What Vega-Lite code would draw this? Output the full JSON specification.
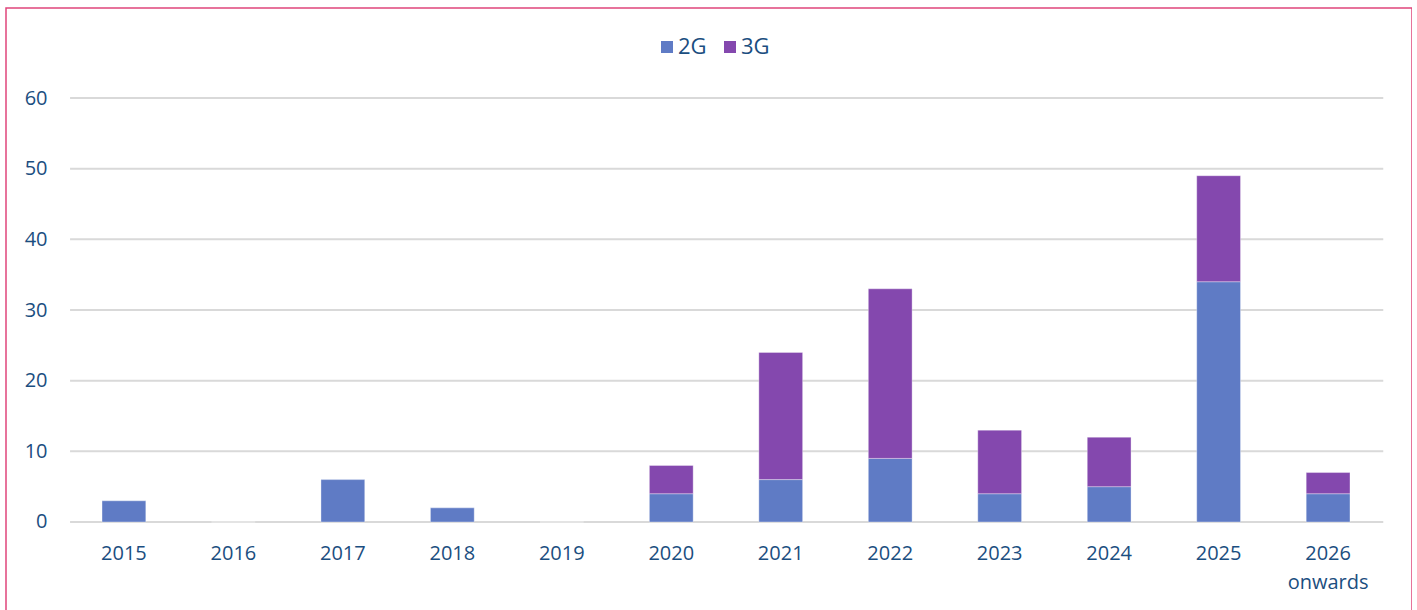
{
  "$schema": "https://vega.github.io/schema/vega-lite/v6.json",
  "autosize": "none",
  "width": 1406,
  "height": 610,
  "padding": {"left": 6, "top": 8, "right": 0, "bottom": 0},
  "background": "#ffffff",
  "config": {
    "font": "Open Sans",
    "view": {"stroke": "#E0457B", "strokeWidth": 1.5}
  },
  "datasets": {
    "bars": [
      {"year": "2015", "series": "2G", "value": 3},
      {"year": "2016", "series": "2G", "value": 0},
      {"year": "2017", "series": "2G", "value": 6},
      {"year": "2018", "series": "2G", "value": 2},
      {"year": "2019", "series": "2G", "value": 0},
      {"year": "2020", "series": "2G", "value": 4},
      {"year": "2020", "series": "3G", "value": 4},
      {"year": "2021", "series": "2G", "value": 6},
      {"year": "2021", "series": "3G", "value": 18},
      {"year": "2022", "series": "2G", "value": 9},
      {"year": "2022", "series": "3G", "value": 24},
      {"year": "2023", "series": "2G", "value": 4},
      {"year": "2023", "series": "3G", "value": 9},
      {"year": "2024", "series": "2G", "value": 5},
      {"year": "2024", "series": "3G", "value": 7},
      {"year": "2025", "series": "2G", "value": 34},
      {"year": "2025", "series": "3G", "value": 15},
      {"year": "2026 onwards", "series": "2G", "value": 4},
      {"year": "2026 onwards", "series": "3G", "value": 3}
    ],
    "grid": [{"v": 0}, {"v": 10}, {"v": 20}, {"v": 30}, {"v": 40}, {"v": 50}, {"v": 60}]
  },
  "layer": [
    {
      "data": {"name": "grid"},
      "mark": {"type": "rule", "color": "#D9D9D9", "strokeWidth": 2},
      "encoding": {
        "y": {"field": "v", "type": "quantitative"},
        "x": {"datum": "2015", "type": "nominal", "bandPosition": -0.73},
        "x2": {"datum": "2026 onwards", "bandPosition": 1.76}
      }
    },
    {
      "data": {"name": "bars"},
      "mark": {"type": "bar", "stroke": "#ffffff", "strokeOpacity": 0.35, "strokeWidth": 1},
      "encoding": {
        "x": {
          "field": "year",
          "type": "nominal",
          "sort": null,
          "scale": {
            "domain": ["2015", "2016", "2017", "2018", "2019", "2020", "2021", "2022", "2023", "2024", "2025", "2026 onwards"],
            "paddingInner": 0.6,
            "paddingOuter": 0.7218,
            "align": 0.6076
          },
          "axis": {
            "title": null,
            "orient": "bottom",
            "offset": -96,
            "bandPosition": 0.5,
            "domain": false,
            "ticks": false,
            "grid": false,
            "labelAngle": 0,
            "labelAlign": "center",
            "labelPadding": 31,
            "labelFontSize": 20,
            "labelColor": "#1B4E80",
            "labelLineHeight": 29,
            "labelExpr": "datum.label == '2026 onwards' ? ['2026', 'onwards'] : datum.label"
          }
        },
        "y": {
          "field": "value",
          "type": "quantitative",
          "stack": "zero",
          "scale": {"domain": [-13.585, 72.736], "nice": false, "zero": false},
          "axis": {
            "title": null,
            "values": [0, 10, 20, 30, 40, 50, 60],
            "offset": -41,
            "domain": false,
            "ticks": false,
            "grid": false,
            "labelPadding": 0,
            "labelFontSize": 20,
            "labelColor": "#1B4E80"
          }
        },
        "color": {
          "field": "series",
          "type": "nominal",
          "scale": {"domain": ["2G", "3G"], "range": ["#5F7BC5", "#8448AE"]},
          "legend": {
            "title": null,
            "orient": "none",
            "direction": "horizontal",
            "legendX": 650,
            "legendY": 28,
            "symbolType": "square",
            "symbolSize": 144,
            "symbolStrokeWidth": 0,
            "labelFontSize": 22,
            "labelColor": "#1B4E80",
            "labelOffset": 0,
            "columnPadding": 12
          }
        },
        "order": {"field": "series", "sort": "ascending"}
      }
    }
  ]
}
